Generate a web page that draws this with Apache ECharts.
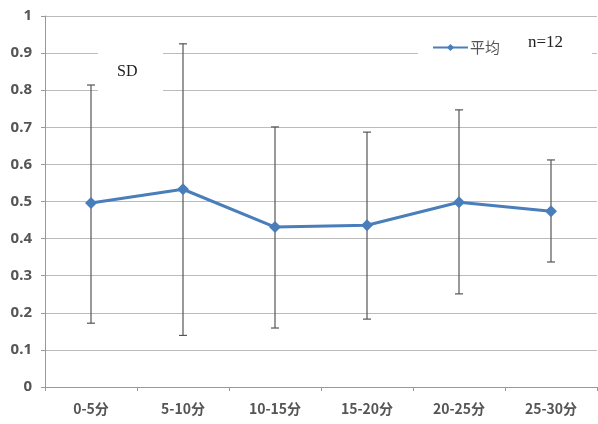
<!DOCTYPE html>
<html>
<head>
<meta charset="utf-8">
<script src="https://cdn.jsdelivr.net/npm/echarts@6/dist/echarts.min.js"></script>
<style>
  html, body { margin: 0; padding: 0; background: #fff; }
  #chart { width: 598px; height: 424px; }
</style>
</head>
<body>
<div id="chart"></div>
<script>
// Data
const categories = ['0-5分', '5-10分', '10-15分', '15-20分', '20-25分', '25-30分']
const means = [0.496, 0.533, 0.431, 0.436, 0.498, 0.474]
const sdUpper = [0.814, 0.925, 0.701, 0.687, 0.747, 0.612]
const sdLower = [0.172, 0.139, 0.159, 0.183, 0.251, 0.337]

const chart = echarts.init(document.getElementById('chart'))

const errorData = categories.map((c, i) => [i, sdLower[i], sdUpper[i]])

chart.setOption({
  animation: false,
  grid: {
    left: 45,
    right: 1,
    top: 16,
    bottom: 37,
  },
  legend: {
    data: ['平均'],
    left: 427,
    top: 35,
    itemWidth: 35,
    itemHeight: 9,
    itemGap: 4,
    textStyle: {
      color: '#555',
      fontSize: 15,
      fontFamily: 'Noto Sans CJK SC',
      padding: [0, 0, 0, -3],
    },
  },
  xAxis: {
    type: 'category',
    data: categories,
    axisLine: { lineStyle: { color: '#999' } },
    axisTick: { show: true, length: 4, lineStyle: { color: '#999' } },
    axisLabel: {
      color: '#555',
      fontSize: 14,
      fontWeight: 'bold',
      margin: 15,
      fontFamily: 'Noto Sans CJK SC',
    },
  },
  yAxis: {
    type: 'value',
    min: 0,
    max: 1,
    interval: 0.1,
    axisLine: { show: true, lineStyle: { color: '#999' } },
    axisTick: { show: true, length: 4, lineStyle: { color: '#999' } },
    axisLabel: {
      color: '#555',
      fontSize: 15,
      fontWeight: 'bold',
      margin: 13,
      fontFamily: 'Noto Sans',
    },
    splitLine: { lineStyle: { color: '#bbb', width: 1 } },
  },
  graphic: [
    // white box behind "SD"
    {
      type: 'rect',
      z: 3,
      shape: { x: 98, y: 49, width: 65, height: 45 },
      style: { fill: '#fff' },
    },
    {
      type: 'text',
      z: 5,
      left: 117,
      top: 64,
      style: {
        text: 'SD',
        fill: '#222',
        font: '16px "Liberation Serif"',
      },
    },
    // white box behind legend and n=12
    {
      type: 'rect',
      z: 3,
      shape: { x: 418, y: 30, width: 174, height: 32 },
      style: { fill: '#fff' },
    },
    {
      type: 'text',
      z: 5,
      left: 528,
      top: 34,
      style: {
        text: 'n=12',
        fill: '#222',
        font: '17px "Liberation Serif"',
      },
    },
  ],
  series: [
    {
      name: 'SD',
      type: 'custom',
      z: 2,
      data: errorData,
      renderItem: (params, api) => {
        const i = api.value(0)
        const lo = api.coord([i, api.value(1)])
        const hi = api.coord([i, api.value(2)])
        const cap = 4
        const style = { stroke: '#555', lineWidth: 1.2 }
        return {
          type: 'group',
          children: [
            { type: 'line', shape: { x1: lo[0], y1: lo[1], x2: hi[0], y2: hi[1] }, style },
            { type: 'line', shape: { x1: hi[0] - cap, y1: hi[1], x2: hi[0] + cap, y2: hi[1] }, style },
            { type: 'line', shape: { x1: lo[0] - cap, y1: lo[1], x2: lo[0] + cap, y2: lo[1] }, style },
          ],
        }
      },
    },
    {
      name: '平均',
      type: 'line',
      z: 4,
      data: means,
      symbol: 'diamond',
      symbolSize: 12,
      lineStyle: { color: '#4a7ebb', width: 3 },
      itemStyle: { color: '#4a7ebb' },
    },
  ],
})
</script>
</body>
</html>
